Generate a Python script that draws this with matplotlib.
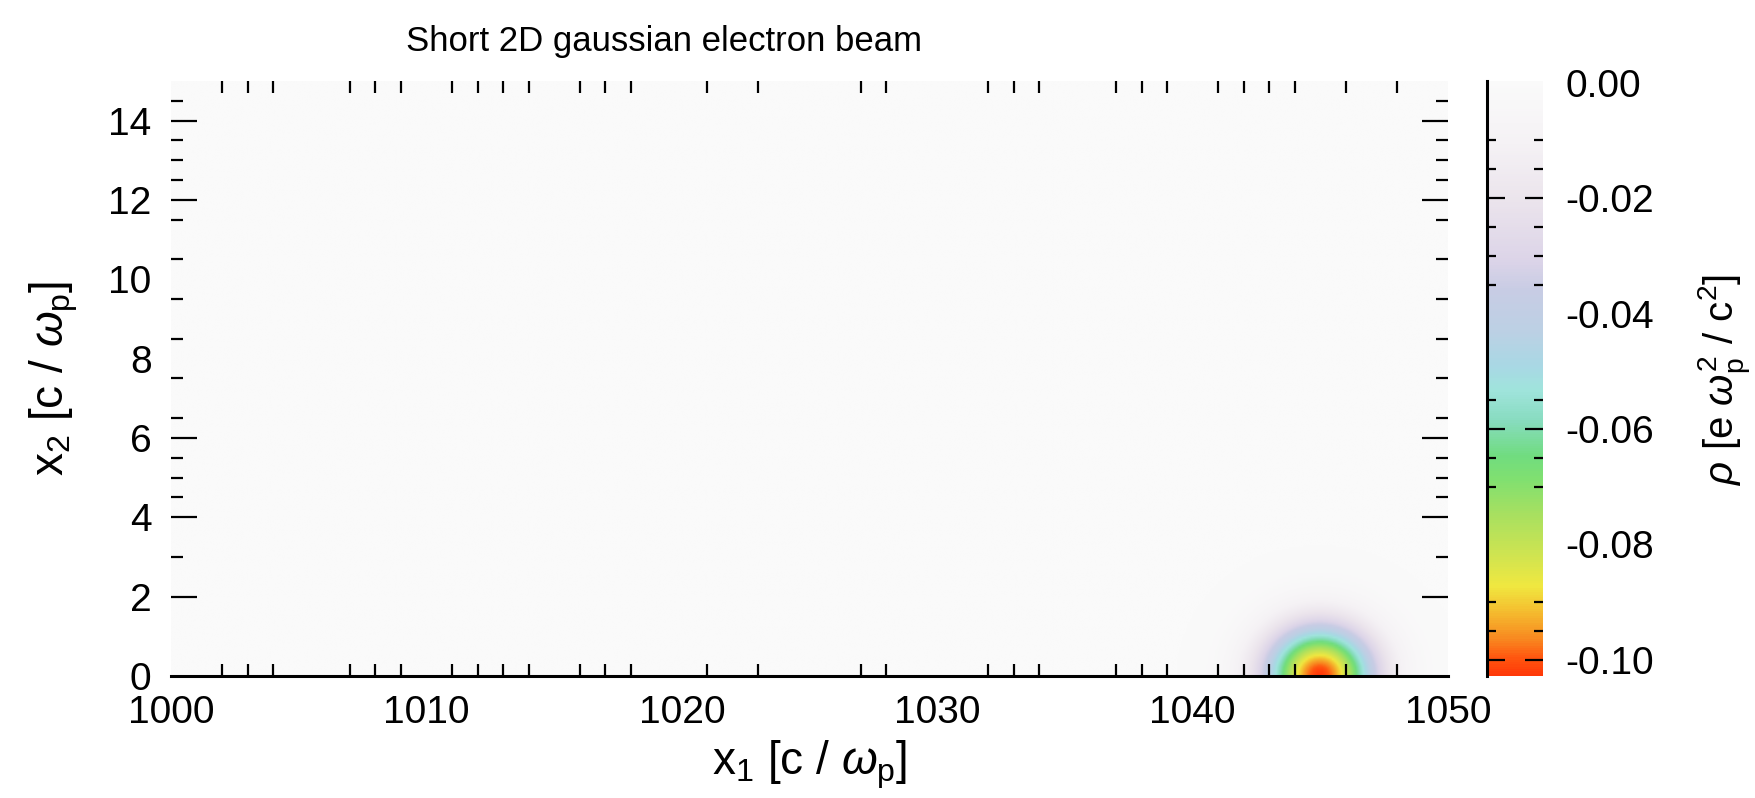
import numpy as np
import matplotlib
matplotlib.use("Agg")
import matplotlib.pyplot as plt
from matplotlib.colors import LinearSegmentedColormap, Normalize
from matplotlib.ticker import FixedLocator

plt.rcParams['font.family'] = ['Liberation Sans', 'DejaVu Sans']
plt.rcParams['mathtext.fontset'] = 'custom'
plt.rcParams['mathtext.rm'] = 'Liberation Sans'
plt.rcParams['mathtext.it'] = 'Liberation Sans:italic'

# ---------------------------------------------
# DATA
# ---------------------------------------------

# simulation box
x1_range = [1000.0, 1050.0]
x2_range = [0.0, 15.0]

# gaussian beam (centre on the axis, charge density peak)
beam_x1 = 1045.0
beam_x2 = 0.0
beam_sigma_x1 = 1.5
beam_sigma_x2 = 0.88
beam_peak = -0.1025

# colour scale
rho_min = -0.1028
rho_max = 0.0003

# ticks as drawn in the picture
x_labels = [1000, 1010, 1020, 1030, 1040, 1050]
x_minor = [1002, 1003, 1004, 1007, 1008, 1009, 1011, 1012, 1013, 1014,
           1016, 1017, 1018, 1021, 1023, 1027, 1028, 1032, 1033, 1034,
           1037, 1038, 1039, 1041, 1042, 1043, 1044, 1046, 1048]
y_labels = [0, 2, 4, 6, 8, 10, 12, 14]
y_long = [2, 4, 6, 12, 14]
y_minor = [3, 4.5, 5, 5.5, 6.5, 7.5, 8.5, 9.5, 10.5, 11.5, 12.5, 13, 13.5, 14.5]
cb_labels = [0.0, -0.02, -0.04, -0.06, -0.08, -0.10]
cb_long = [-0.02, -0.06, -0.10]
cb_minor = [-0.01, -0.015, -0.025, -0.03, -0.035, -0.055, -0.065, -0.07,
            -0.09, -0.095]

# colour table (position 0 = most negative)
cmap_pos = [0.0, 0.03, 0.06, 0.11, 0.15, 0.20, 0.27, 0.33, 0.37, 0.43,
            0.48, 0.52, 0.58, 0.65, 0.70, 0.80, 0.90, 1.0]
cmap_col = ['#ff3808', '#ff5810', '#f88820', '#f4c030', '#f0e840', '#d0e450',
            '#a8e060', '#80e070', '#70dc80', '#88dcc0', '#a0e4dc', '#a8d8e4',
            '#bcd0e4', '#c8cce4', '#dcd4e8', '#ebe4ec', '#f5f2f5', '#fafafa']

# ---------------------------------------------
# FIELD
# ---------------------------------------------

x1 = np.linspace(x1_range[0], x1_range[1], 1001)
x2 = np.linspace(x2_range[0], x2_range[1], 301)
X1, X2 = np.meshgrid(x1, x2)
r2 = ((X1 - beam_x1) / beam_sigma_x1) ** 2 + ((X2 - beam_x2) / beam_sigma_x2) ** 2
rho = beam_peak * np.exp(-0.5 * r2)

cmap = LinearSegmentedColormap.from_list('idl', list(zip(cmap_pos, cmap_col)))

# ---------------------------------------------
# PLOT
# ---------------------------------------------

fig = plt.figure(figsize=(17.56, 7.98), dpi=100)
ax = fig.add_axes([0.0974, 0.1529, 0.7272, 0.7456])
im = ax.imshow(rho, extent=[x1_range[0], x1_range[1], x2_range[0], x2_range[1]],
               origin='lower', aspect='auto', cmap=cmap,
               norm=Normalize(rho_min, rho_max), interpolation='bilinear')

for side in ['left', 'right', 'top']:
    ax.spines[side].set_visible(False)
ax.spines['bottom'].set_linewidth(2.2)

ax.set_xlim(x1_range)
ax.set_ylim(x2_range)
ax.set_xticks(x_labels)
ax.set_xticklabels([str(v) for v in x_labels])
ax.xaxis.set_minor_locator(FixedLocator(x_minor))
ax.set_yticks(y_labels)
ax.set_yticklabels([str(v) for v in y_labels])
ax.yaxis.set_minor_locator(FixedLocator(y_minor))

ax.tick_params(axis='x', which='major', length=0, labelsize=28, pad=14)
ax.tick_params(axis='x', which='minor', direction='in', top=True, bottom=True,
               length=8.6, width=1.6)
ax.tick_params(axis='y', which='major', direction='in', left=True, right=True,
               length=18.5, width=1.6, labelsize=28, pad=14)
ax.tick_params(axis='y', which='minor', direction='in', left=True, right=True,
               length=8.6, width=1.6)
for tick, val in zip(ax.yaxis.get_major_ticks(), y_labels):
    if val not in y_long:
        tick.tick1line.set_markersize(0)
        tick.tick2line.set_markersize(0)

ax.set_xlabel(r'x$_1$ [c / $\omega_\mathrm{p}$]', fontsize=33, labelpad=5)
ax.set_ylabel(r'x$_2$ [c / $\omega_\mathrm{p}$]', fontsize=33, labelpad=20)
fig.text(0.378, 0.948, 'Short 2D gaussian electron beam', fontsize=25,
         ha='center', va='center')

# ---------------------------------------------
# COLORBAR
# ---------------------------------------------

cax = fig.add_axes([0.8468, 0.1529, 0.0319, 0.7456])
cb = fig.colorbar(im, cax=cax)
cb.outline.set_visible(False)
cax.spines['left'].set_visible(True)
cax.spines['left'].set_linewidth(2.2)
cb.set_ticks(cb_labels)
cb.set_ticklabels(['%.2f' % v for v in cb_labels])
cax.yaxis.set_minor_locator(FixedLocator(cb_minor))
cax.tick_params(which='major', direction='in', left=True, right=True,
                length=13, width=1.6, labelsize=28, pad=16)
cax.tick_params(which='minor', direction='in', left=True, right=True,
                length=6.5, width=1.6)
for tick, val in zip(cax.yaxis.get_major_ticks(), cb_labels):
    if val not in cb_long:
        tick.tick1line.set_markersize(0)
        tick.tick2line.set_markersize(0)
fig.text(0.982, 0.525, r'$\rho$ [e $\omega_\mathrm{p}^2$ / c$^2$]', fontsize=29,
         rotation=90, ha='center', va='center')

fig.savefig('out.png', dpi=100)
